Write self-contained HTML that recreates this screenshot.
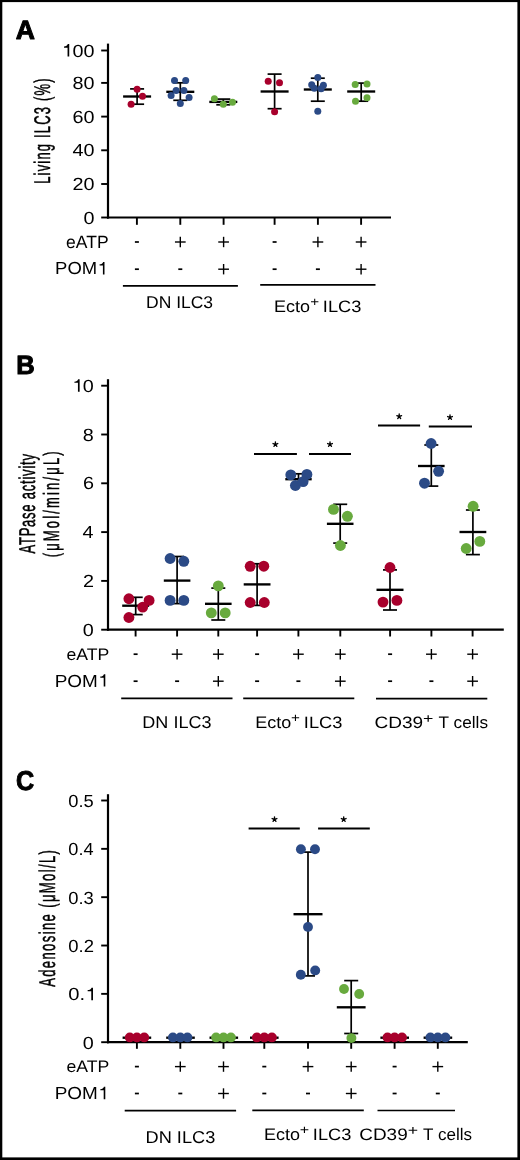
<!DOCTYPE html>
<html><head><meta charset="utf-8"><title>Figure</title>
<style>html,body{margin:0;padding:0;background:#fff;}svg{display:block;will-change:transform;text-rendering:geometricPrecision;}</style></head>
<body><svg width="520" height="1160" viewBox="0 0 520 1160" font-family="'Liberation Sans', sans-serif">
<rect x="0" y="0" width="520" height="1160" fill="#fff"/>
<rect x="0" y="0" width="2.3" height="1160" fill="#000"/>
<rect x="0" y="0" width="520" height="2.1" fill="#000"/>
<rect x="517.4" y="0" width="2.6" height="1160" fill="#000"/>
<rect x="0" y="1157.4" width="520" height="2.6" fill="#000"/>
<g transform="matrix(0.984 0 0 0.982 15.836 38.5)" fill="#000"><text font-size="27" font-weight="bold" stroke="#000" stroke-width="1.0" stroke-linejoin="round">A</text></g>
<line x1="108" y1="43.6" x2="108" y2="218.6" stroke="#000" stroke-width="2.2"/>
<line x1="107" y1="217.5" x2="391" y2="217.5" stroke="#000" stroke-width="2.2"/>
<line x1="101.2" y1="50.5" x2="108" y2="50.5" stroke="#000" stroke-width="1.9"/>
<line x1="101.2" y1="82.9" x2="108" y2="82.9" stroke="#000" stroke-width="1.9"/>
<line x1="101.2" y1="116.6" x2="108" y2="116.6" stroke="#000" stroke-width="1.9"/>
<line x1="101.2" y1="150.3" x2="108" y2="150.3" stroke="#000" stroke-width="1.9"/>
<line x1="101.2" y1="184" x2="108" y2="184" stroke="#000" stroke-width="1.9"/>
<line x1="101.2" y1="217.5" x2="108" y2="217.5" stroke="#000" stroke-width="1.9"/>
<g transform="matrix(1.1 0 0 0.978 61.417 56.574)" fill="#000"><text font-size="18" font-weight="normal"> 00</text><path d="M5.580,0.000 L5.580,-9.126 L2.358,-9.126 L2.358,-10.368 C4.176,-10.494 5.400,-11.070 5.796,-12.762 L7.110,-12.762 L7.110,0.000 Z"/></g>
<g transform="matrix(1.1 0 0 0.978 72.409 88.974)" fill="#000"><text font-size="18" font-weight="normal">80</text></g>
<g transform="matrix(1.1 0 0 0.978 72.409 122.674)" fill="#000"><text font-size="18" font-weight="normal">60</text></g>
<g transform="matrix(1.1 0 0 0.978 72.409 156.374)" fill="#000"><text font-size="18" font-weight="normal">40</text></g>
<g transform="matrix(1.1 0 0 0.978 72.409 190.074)" fill="#000"><text font-size="18" font-weight="normal">20</text></g>
<g transform="matrix(1.1 0 0 0.978 83.4 223.574)" fill="#000"><text font-size="18" font-weight="normal">0</text></g>
<line x1="136.9" y1="217.5" x2="136.9" y2="224.8" stroke="#000" stroke-width="1.9"/>
<line x1="180.3" y1="217.5" x2="180.3" y2="224.8" stroke="#000" stroke-width="1.9"/>
<line x1="223.6" y1="217.5" x2="223.6" y2="224.8" stroke="#000" stroke-width="1.9"/>
<line x1="274.6" y1="217.5" x2="274.6" y2="224.8" stroke="#000" stroke-width="1.9"/>
<line x1="317.9" y1="217.5" x2="317.9" y2="224.8" stroke="#000" stroke-width="1.9"/>
<line x1="361.1" y1="217.5" x2="361.1" y2="224.8" stroke="#000" stroke-width="1.9"/>
<g transform="matrix(0.973 0 0 0.982 66.112 247.7)" fill="#000"><text font-size="18" font-weight="normal">eATP</text></g>
<g transform="matrix(1.026 0 0 0.972 55.122 274.4)" fill="#000"><text font-size="18" font-weight="normal">POM </text><path d="M46.582,0.000 L46.582,-9.126 L43.360,-9.126 L43.360,-10.368 C45.178,-10.494 46.402,-11.070 46.798,-12.762 L48.112,-12.762 L48.112,0.000 Z"/></g>
<rect x="134.9" y="241.15" width="4" height="1.7" fill="#000"/>
<rect x="134.9" y="268.35" width="4" height="1.7" fill="#000"/>
<line x1="174.95" y1="242" x2="185.65" y2="242" stroke="#000" stroke-width="1.4"/>
<line x1="180.3" y1="236.8" x2="180.3" y2="247.2" stroke="#000" stroke-width="1.4"/>
<rect x="178.3" y="268.35" width="4" height="1.7" fill="#000"/>
<line x1="218.25" y1="242" x2="228.95" y2="242" stroke="#000" stroke-width="1.4"/>
<line x1="223.6" y1="236.8" x2="223.6" y2="247.2" stroke="#000" stroke-width="1.4"/>
<line x1="218.25" y1="269.2" x2="228.95" y2="269.2" stroke="#000" stroke-width="1.4"/>
<line x1="223.6" y1="264" x2="223.6" y2="274.4" stroke="#000" stroke-width="1.4"/>
<rect x="272.6" y="241.15" width="4" height="1.7" fill="#000"/>
<rect x="272.6" y="268.35" width="4" height="1.7" fill="#000"/>
<line x1="312.55" y1="242" x2="323.25" y2="242" stroke="#000" stroke-width="1.4"/>
<line x1="317.9" y1="236.8" x2="317.9" y2="247.2" stroke="#000" stroke-width="1.4"/>
<rect x="315.9" y="268.35" width="4" height="1.7" fill="#000"/>
<line x1="355.75" y1="242" x2="366.45" y2="242" stroke="#000" stroke-width="1.4"/>
<line x1="361.1" y1="236.8" x2="361.1" y2="247.2" stroke="#000" stroke-width="1.4"/>
<line x1="355.75" y1="269.2" x2="366.45" y2="269.2" stroke="#000" stroke-width="1.4"/>
<line x1="361.1" y1="264" x2="361.1" y2="274.4" stroke="#000" stroke-width="1.4"/>
<line x1="122.9" y1="285.8" x2="237.9" y2="285.8" stroke="#000" stroke-width="1.7"/>
<line x1="260.2" y1="284.8" x2="375.5" y2="284.8" stroke="#000" stroke-width="1.7"/>
<g transform="matrix(1.029 0 0 1 146.001 308.3)" fill="#000"><text font-size="17" font-weight="normal">DN ILC3</text></g>
<g transform="matrix(1.058 0 0 0.98 274.062 311.8)" fill="#000"><text font-size="17" font-weight="normal">Ecto</text></g>
<g transform="matrix(1.174 0 0 0.981 310.237 306.4)" fill="#000"><text font-size="13" font-weight="normal">+</text></g>
<g transform="matrix(1.139 0 0 1.027 322.859 311.8)" fill="#000"><text font-size="16" font-weight="normal">ILC3</text></g>
<text transform="translate(49.6 183.84) rotate(-90) scale(0.565 0.983)" font-size="23" letter-spacing="2.093" stroke="#000" stroke-width="0.5">Living ILC3 (%)</text>
<line x1="137.1" y1="88.9" x2="137.1" y2="104.2" stroke="#000" stroke-width="1.7"/>
<line x1="130.1" y1="88.9" x2="144.1" y2="88.9" stroke="#000" stroke-width="1.7"/>
<line x1="130.1" y1="104.2" x2="144.1" y2="104.2" stroke="#000" stroke-width="1.7"/>
<line x1="123.1" y1="96.5" x2="151.1" y2="96.5" stroke="#000" stroke-width="2.35"/>
<circle cx="137.1" cy="89.2" r="3.5" fill="#a8002c"/>
<circle cx="142.5" cy="96.3" r="3.5" fill="#a8002c"/>
<circle cx="131.1" cy="104.2" r="3.5" fill="#a8002c"/>
<line x1="180.3" y1="82.8" x2="180.3" y2="100.3" stroke="#000" stroke-width="1.7"/>
<line x1="173.3" y1="82.8" x2="187.3" y2="82.8" stroke="#000" stroke-width="1.7"/>
<line x1="173.3" y1="100.3" x2="187.3" y2="100.3" stroke="#000" stroke-width="1.7"/>
<line x1="166.3" y1="91.8" x2="194.3" y2="91.8" stroke="#000" stroke-width="2.35"/>
<circle cx="174.5" cy="80.6" r="3.5" fill="#2b4a86"/>
<circle cx="185.7" cy="80.6" r="3.5" fill="#2b4a86"/>
<circle cx="176.1" cy="90.5" r="3.5" fill="#2b4a86"/>
<circle cx="183.9" cy="90.5" r="3.5" fill="#2b4a86"/>
<circle cx="171.1" cy="95.5" r="3.5" fill="#2b4a86"/>
<circle cx="189.1" cy="97.4" r="3.5" fill="#2b4a86"/>
<circle cx="180.3" cy="103.5" r="3.5" fill="#2b4a86"/>
<line x1="223.3" y1="99.1" x2="223.3" y2="104.8" stroke="#000" stroke-width="1.7"/>
<line x1="216.3" y1="99.1" x2="230.3" y2="99.1" stroke="#000" stroke-width="1.7"/>
<line x1="216.3" y1="104.8" x2="230.3" y2="104.8" stroke="#000" stroke-width="1.7"/>
<line x1="209.3" y1="101.9" x2="237.3" y2="101.9" stroke="#000" stroke-width="2.35"/>
<circle cx="214.4" cy="98.8" r="3.5" fill="#68aa3e"/>
<circle cx="223.3" cy="104.2" r="3.5" fill="#68aa3e"/>
<circle cx="232.5" cy="102.3" r="3.5" fill="#68aa3e"/>
<line x1="274.6" y1="74.1" x2="274.6" y2="108.7" stroke="#000" stroke-width="1.7"/>
<line x1="267.6" y1="74.1" x2="281.6" y2="74.1" stroke="#000" stroke-width="1.7"/>
<line x1="267.6" y1="108.7" x2="281.6" y2="108.7" stroke="#000" stroke-width="1.7"/>
<line x1="260.6" y1="91.5" x2="288.6" y2="91.5" stroke="#000" stroke-width="2.35"/>
<circle cx="268.2" cy="81.2" r="3.5" fill="#a8002c"/>
<circle cx="279.5" cy="82.8" r="3.5" fill="#a8002c"/>
<circle cx="274.6" cy="111.8" r="3.5" fill="#a8002c"/>
<line x1="317.8" y1="78.2" x2="317.8" y2="101.2" stroke="#000" stroke-width="1.7"/>
<line x1="310.8" y1="78.2" x2="324.8" y2="78.2" stroke="#000" stroke-width="1.7"/>
<line x1="310.8" y1="101.2" x2="324.8" y2="101.2" stroke="#000" stroke-width="1.7"/>
<line x1="303.8" y1="89.5" x2="331.8" y2="89.5" stroke="#000" stroke-width="2.35"/>
<circle cx="317.8" cy="77.5" r="3.5" fill="#2b4a86"/>
<circle cx="311.7" cy="84.8" r="3.5" fill="#2b4a86"/>
<circle cx="314.3" cy="88.3" r="3.5" fill="#2b4a86"/>
<circle cx="323.4" cy="85.2" r="3.5" fill="#2b4a86"/>
<circle cx="321.1" cy="88.7" r="3.5" fill="#2b4a86"/>
<circle cx="317.8" cy="111.2" r="3.5" fill="#2b4a86"/>
<line x1="361.2" y1="83.1" x2="361.2" y2="101.2" stroke="#000" stroke-width="1.7"/>
<line x1="354.2" y1="83.1" x2="368.2" y2="83.1" stroke="#000" stroke-width="1.7"/>
<line x1="354.2" y1="101.2" x2="368.2" y2="101.2" stroke="#000" stroke-width="1.7"/>
<line x1="347.2" y1="91.5" x2="375.2" y2="91.5" stroke="#000" stroke-width="2.35"/>
<circle cx="355.2" cy="84.6" r="3.5" fill="#68aa3e"/>
<circle cx="367" cy="84.1" r="3.5" fill="#68aa3e"/>
<circle cx="367" cy="97.7" r="3.5" fill="#68aa3e"/>
<circle cx="355.5" cy="101.2" r="3.5" fill="#68aa3e"/>
<g transform="matrix(0.984 0 0 1.014 16.338 374)" fill="#000"><text font-size="26" font-weight="bold" stroke="#000" stroke-width="1.0" stroke-linejoin="round">B</text></g>
<line x1="108" y1="379.2" x2="108" y2="630.8" stroke="#000" stroke-width="2.2"/>
<line x1="107" y1="629.7" x2="503.8" y2="629.7" stroke="#000" stroke-width="2.2"/>
<line x1="101.2" y1="385.7" x2="108" y2="385.7" stroke="#000" stroke-width="1.9"/>
<line x1="101.2" y1="434.5" x2="108" y2="434.5" stroke="#000" stroke-width="1.9"/>
<line x1="101.2" y1="483.3" x2="108" y2="483.3" stroke="#000" stroke-width="1.9"/>
<line x1="101.2" y1="532.1" x2="108" y2="532.1" stroke="#000" stroke-width="1.9"/>
<line x1="101.2" y1="580.9" x2="108" y2="580.9" stroke="#000" stroke-width="1.9"/>
<line x1="101.2" y1="629.7" x2="108" y2="629.7" stroke="#000" stroke-width="1.9"/>
<g transform="matrix(1.1 0 0 0.978 71.809 391.774)" fill="#000"><text font-size="18" font-weight="normal"> 0</text><path d="M5.580,0.000 L5.580,-9.126 L2.358,-9.126 L2.358,-10.368 C4.176,-10.494 5.400,-11.070 5.796,-12.762 L7.110,-12.762 L7.110,0.000 Z"/></g>
<g transform="matrix(1.1 0 0 0.978 82.8 440.574)" fill="#000"><text font-size="18" font-weight="normal">8</text></g>
<g transform="matrix(1.1 0 0 0.978 82.9 489.374)" fill="#000"><text font-size="18" font-weight="normal">6</text></g>
<g transform="matrix(1.1 0 0 0.978 82.602 538.174)" fill="#000"><text font-size="18" font-weight="normal">4</text></g>
<g transform="matrix(1.1 0 0 0.978 82.999 586.974)" fill="#000"><text font-size="18" font-weight="normal">2</text></g>
<g transform="matrix(1.1 0 0 0.978 82.8 635.774)" fill="#000"><text font-size="18" font-weight="normal">0</text></g>
<line x1="135.6" y1="629.7" x2="135.6" y2="636.5" stroke="#000" stroke-width="1.9"/>
<line x1="177.1" y1="629.7" x2="177.1" y2="636.5" stroke="#000" stroke-width="1.9"/>
<line x1="218.3" y1="629.7" x2="218.3" y2="636.5" stroke="#000" stroke-width="1.9"/>
<line x1="257.1" y1="629.7" x2="257.1" y2="636.5" stroke="#000" stroke-width="1.9"/>
<line x1="298.4" y1="629.7" x2="298.4" y2="636.5" stroke="#000" stroke-width="1.9"/>
<line x1="340.3" y1="629.7" x2="340.3" y2="636.5" stroke="#000" stroke-width="1.9"/>
<line x1="390.1" y1="629.7" x2="390.1" y2="636.5" stroke="#000" stroke-width="1.9"/>
<line x1="431.4" y1="629.7" x2="431.4" y2="636.5" stroke="#000" stroke-width="1.9"/>
<line x1="472.6" y1="629.7" x2="472.6" y2="636.5" stroke="#000" stroke-width="1.9"/>
<g transform="matrix(1.038 0 0 0.98 66.406 659.6)" fill="#000"><text font-size="17" font-weight="normal">eATP</text></g>
<g transform="matrix(1.114 0 0 1.025 54.685 686.6)" fill="#000"><text font-size="17" font-weight="normal">POM </text><path d="M43.994,0.000 L43.994,-8.619 L40.951,-8.619 L40.951,-9.792 C42.668,-9.911 43.824,-10.455 44.198,-12.053 L45.439,-12.053 L45.439,0.000 Z"/></g>
<rect x="133.6" y="653.35" width="4" height="1.7" fill="#000"/>
<rect x="133.6" y="680.35" width="4" height="1.7" fill="#000"/>
<line x1="171.75" y1="654.2" x2="182.45" y2="654.2" stroke="#000" stroke-width="1.4"/>
<line x1="177.1" y1="649" x2="177.1" y2="659.4" stroke="#000" stroke-width="1.4"/>
<rect x="175.1" y="680.35" width="4" height="1.7" fill="#000"/>
<line x1="212.95" y1="654.2" x2="223.65" y2="654.2" stroke="#000" stroke-width="1.4"/>
<line x1="218.3" y1="649" x2="218.3" y2="659.4" stroke="#000" stroke-width="1.4"/>
<line x1="212.95" y1="681.2" x2="223.65" y2="681.2" stroke="#000" stroke-width="1.4"/>
<line x1="218.3" y1="676" x2="218.3" y2="686.4" stroke="#000" stroke-width="1.4"/>
<rect x="255.1" y="653.35" width="4" height="1.7" fill="#000"/>
<rect x="255.1" y="680.35" width="4" height="1.7" fill="#000"/>
<line x1="293.05" y1="654.2" x2="303.75" y2="654.2" stroke="#000" stroke-width="1.4"/>
<line x1="298.4" y1="649" x2="298.4" y2="659.4" stroke="#000" stroke-width="1.4"/>
<rect x="296.4" y="680.35" width="4" height="1.7" fill="#000"/>
<line x1="334.95" y1="654.2" x2="345.65" y2="654.2" stroke="#000" stroke-width="1.4"/>
<line x1="340.3" y1="649" x2="340.3" y2="659.4" stroke="#000" stroke-width="1.4"/>
<line x1="334.95" y1="681.2" x2="345.65" y2="681.2" stroke="#000" stroke-width="1.4"/>
<line x1="340.3" y1="676" x2="340.3" y2="686.4" stroke="#000" stroke-width="1.4"/>
<rect x="388.1" y="653.35" width="4" height="1.7" fill="#000"/>
<rect x="388.1" y="680.35" width="4" height="1.7" fill="#000"/>
<line x1="426.05" y1="654.2" x2="436.75" y2="654.2" stroke="#000" stroke-width="1.4"/>
<line x1="431.4" y1="649" x2="431.4" y2="659.4" stroke="#000" stroke-width="1.4"/>
<rect x="429.4" y="680.35" width="4" height="1.7" fill="#000"/>
<line x1="467.25" y1="654.2" x2="477.95" y2="654.2" stroke="#000" stroke-width="1.4"/>
<line x1="472.6" y1="649" x2="472.6" y2="659.4" stroke="#000" stroke-width="1.4"/>
<line x1="467.25" y1="681.2" x2="477.95" y2="681.2" stroke="#000" stroke-width="1.4"/>
<line x1="472.6" y1="676" x2="472.6" y2="686.4" stroke="#000" stroke-width="1.4"/>
<line x1="121.2" y1="698.3" x2="232.5" y2="698.3" stroke="#000" stroke-width="1.7"/>
<line x1="243.2" y1="698.3" x2="354.3" y2="698.3" stroke="#000" stroke-width="1.7"/>
<line x1="376" y1="698.6" x2="487.3" y2="698.6" stroke="#000" stroke-width="1.7"/>
<g transform="matrix(1.062 0 0 1.008 142.305 728)" fill="#000"><text font-size="17" font-weight="normal">DN ILC3</text></g>
<g transform="matrix(1.058 0 0 0.98 255.162 727.8)" fill="#000"><text font-size="17" font-weight="normal">Ecto</text></g>
<g transform="matrix(1.174 0 0 0.981 290.937 722.4)" fill="#000"><text font-size="13" font-weight="normal">+</text></g>
<g transform="matrix(1.139 0 0 1.027 303.859 727.8)" fill="#000"><text font-size="16" font-weight="normal">ILC3</text></g>
<g transform="matrix(1.189 0 0 1.027 374.549 727.9)" fill="#000"><text font-size="16" font-weight="normal">CD39</text></g>
<g transform="matrix(1.364 0 0 1.034 423.013 722.6)" fill="#000"><text font-size="13" font-weight="normal">+</text></g>
<g transform="matrix(1.013 0 0 0.98 438.555 727.9)" fill="#000"><text font-size="17" font-weight="normal">T cells</text></g>
<text transform="translate(35 553.565) rotate(-90) scale(0.565 0.989)" font-size="23" letter-spacing="1.382" stroke="#000" stroke-width="0.5">ATPase activity</text>
<text transform="translate(59.2 557.28) rotate(-90) scale(0.591 1.014)" font-size="22" letter-spacing="3.654" stroke="#000" stroke-width="0.5">(μMol/min/μL)</text>
<line x1="254" y1="453.9" x2="296.9" y2="453.9" stroke="#000" stroke-width="2"/>
<path d="M275.4,444.3 L275.4,441.8 M275.4,444.3 L277.778,443.527 M275.4,444.3 L276.869,446.323 M275.4,444.3 L273.931,446.323 M275.4,444.3 L273.022,443.527 " stroke="#000" stroke-width="1.35" stroke-linecap="round" fill="none"/>
<circle cx="275.4" cy="444.3" r="1.0" fill="#000"/>
<line x1="309" y1="453.9" x2="351" y2="453.9" stroke="#000" stroke-width="2"/>
<path d="M330,444.3 L330,441.8 M330,444.3 L332.378,443.527 M330,444.3 L331.469,446.323 M330,444.3 L328.531,446.323 M330,444.3 L327.622,443.527 " stroke="#000" stroke-width="1.35" stroke-linecap="round" fill="none"/>
<circle cx="330" cy="444.3" r="1.0" fill="#000"/>
<line x1="378" y1="425.4" x2="420.1" y2="425.4" stroke="#000" stroke-width="2"/>
<path d="M399.2,416.5 L399.2,414 M399.2,416.5 L401.578,415.727 M399.2,416.5 L400.669,418.523 M399.2,416.5 L397.731,418.523 M399.2,416.5 L396.822,415.727 " stroke="#000" stroke-width="1.35" stroke-linecap="round" fill="none"/>
<circle cx="399.2" cy="416.5" r="1.0" fill="#000"/>
<line x1="428.8" y1="426.4" x2="472" y2="426.4" stroke="#000" stroke-width="2"/>
<path d="M450,417.3 L450,414.8 M450,417.3 L452.378,416.527 M450,417.3 L451.469,419.323 M450,417.3 L448.531,419.323 M450,417.3 L447.622,416.527 " stroke="#000" stroke-width="1.35" stroke-linecap="round" fill="none"/>
<circle cx="450" cy="417.3" r="1.0" fill="#000"/>
<line x1="135.7" y1="597.3" x2="135.7" y2="614.6" stroke="#000" stroke-width="1.7"/>
<line x1="128.7" y1="597.3" x2="142.7" y2="597.3" stroke="#000" stroke-width="1.7"/>
<line x1="128.7" y1="614.6" x2="142.7" y2="614.6" stroke="#000" stroke-width="1.7"/>
<line x1="122.2" y1="605.7" x2="149.2" y2="605.7" stroke="#000" stroke-width="2.35"/>
<circle cx="128.9" cy="598.75" r="5.45" fill="#a8002c"/>
<circle cx="149.1" cy="600.4" r="5.45" fill="#a8002c"/>
<circle cx="142.7" cy="607.1" r="5.45" fill="#a8002c"/>
<circle cx="128.9" cy="617.5" r="5.45" fill="#a8002c"/>
<line x1="177.1" y1="556.5" x2="177.1" y2="603.6" stroke="#000" stroke-width="1.7"/>
<line x1="170.1" y1="556.5" x2="184.1" y2="556.5" stroke="#000" stroke-width="1.7"/>
<line x1="170.1" y1="603.6" x2="184.1" y2="603.6" stroke="#000" stroke-width="1.7"/>
<line x1="163.8" y1="580.6" x2="190.4" y2="580.6" stroke="#000" stroke-width="2.35"/>
<circle cx="170.1" cy="558.5" r="5.45" fill="#2b4a86"/>
<circle cx="183.8" cy="561.3" r="5.45" fill="#2b4a86"/>
<circle cx="170.1" cy="600.4" r="5.45" fill="#2b4a86"/>
<circle cx="183.8" cy="600.4" r="5.45" fill="#2b4a86"/>
<line x1="218.3" y1="588.1" x2="218.3" y2="620" stroke="#000" stroke-width="1.7"/>
<line x1="211.3" y1="588.1" x2="225.3" y2="588.1" stroke="#000" stroke-width="1.7"/>
<line x1="211.3" y1="620" x2="225.3" y2="620" stroke="#000" stroke-width="1.7"/>
<line x1="205" y1="603.8" x2="231.6" y2="603.8" stroke="#000" stroke-width="2.35"/>
<circle cx="218.3" cy="585.9" r="5.45" fill="#68aa3e"/>
<circle cx="211.3" cy="612.9" r="5.45" fill="#68aa3e"/>
<circle cx="225.2" cy="612.9" r="5.45" fill="#68aa3e"/>
<line x1="257.1" y1="563.75" x2="257.1" y2="605.4" stroke="#000" stroke-width="1.7"/>
<line x1="250.1" y1="563.75" x2="264.1" y2="563.75" stroke="#000" stroke-width="1.7"/>
<line x1="250.1" y1="605.4" x2="264.1" y2="605.4" stroke="#000" stroke-width="1.7"/>
<line x1="243.7" y1="584.4" x2="270.5" y2="584.4" stroke="#000" stroke-width="2.35"/>
<circle cx="250.2" cy="566.3" r="5.45" fill="#a8002c"/>
<circle cx="263.8" cy="566.2" r="5.45" fill="#a8002c"/>
<circle cx="250.2" cy="602.5" r="5.45" fill="#a8002c"/>
<circle cx="264.3" cy="602.5" r="5.45" fill="#a8002c"/>
<line x1="298.5" y1="473.8" x2="298.5" y2="484.5" stroke="#000" stroke-width="1.7"/>
<line x1="291.5" y1="473.8" x2="305.5" y2="473.8" stroke="#000" stroke-width="1.7"/>
<line x1="291.5" y1="484.5" x2="305.5" y2="484.5" stroke="#000" stroke-width="1.7"/>
<line x1="285.3" y1="479.2" x2="311.7" y2="479.2" stroke="#000" stroke-width="2.35"/>
<circle cx="290.8" cy="474.9" r="5.45" fill="#2b4a86"/>
<circle cx="306.9" cy="474.4" r="5.45" fill="#2b4a86"/>
<circle cx="295.4" cy="485.5" r="5.45" fill="#2b4a86"/>
<circle cx="303.1" cy="481.6" r="5.45" fill="#2b4a86"/>
<line x1="340.2" y1="504.3" x2="340.2" y2="543.1" stroke="#000" stroke-width="1.7"/>
<line x1="333.2" y1="504.3" x2="347.2" y2="504.3" stroke="#000" stroke-width="1.7"/>
<line x1="333.2" y1="543.1" x2="347.2" y2="543.1" stroke="#000" stroke-width="1.7"/>
<line x1="326.9" y1="523.8" x2="353.5" y2="523.8" stroke="#000" stroke-width="2.35"/>
<circle cx="333.5" cy="509.4" r="5.45" fill="#68aa3e"/>
<circle cx="347.4" cy="516.3" r="5.45" fill="#68aa3e"/>
<circle cx="340.4" cy="545.5" r="5.45" fill="#68aa3e"/>
<line x1="390" y1="569.9" x2="390" y2="610" stroke="#000" stroke-width="1.7"/>
<line x1="383" y1="569.9" x2="397" y2="569.9" stroke="#000" stroke-width="1.7"/>
<line x1="383" y1="610" x2="397" y2="610" stroke="#000" stroke-width="1.7"/>
<line x1="376.5" y1="589.8" x2="403.5" y2="589.8" stroke="#000" stroke-width="2.35"/>
<circle cx="390" cy="567.5" r="5.45" fill="#a8002c"/>
<circle cx="383" cy="602.1" r="5.45" fill="#a8002c"/>
<circle cx="396.9" cy="600.4" r="5.45" fill="#a8002c"/>
<line x1="431.3" y1="445" x2="431.3" y2="486.1" stroke="#000" stroke-width="1.7"/>
<line x1="424.3" y1="445" x2="438.3" y2="445" stroke="#000" stroke-width="1.7"/>
<line x1="424.3" y1="486.1" x2="438.3" y2="486.1" stroke="#000" stroke-width="1.7"/>
<line x1="418" y1="466" x2="444.6" y2="466" stroke="#000" stroke-width="2.35"/>
<circle cx="431.1" cy="443.5" r="5.45" fill="#2b4a86"/>
<circle cx="438.6" cy="471.3" r="5.45" fill="#2b4a86"/>
<circle cx="424.5" cy="483.2" r="5.45" fill="#2b4a86"/>
<line x1="472.9" y1="510" x2="472.9" y2="554.6" stroke="#000" stroke-width="1.7"/>
<line x1="465.9" y1="510" x2="479.9" y2="510" stroke="#000" stroke-width="1.7"/>
<line x1="465.9" y1="554.6" x2="479.9" y2="554.6" stroke="#000" stroke-width="1.7"/>
<line x1="459.5" y1="532" x2="486.3" y2="532" stroke="#000" stroke-width="2.35"/>
<circle cx="473.1" cy="506.3" r="5.45" fill="#68aa3e"/>
<circle cx="479.8" cy="541.4" r="5.45" fill="#68aa3e"/>
<circle cx="466.2" cy="548.5" r="5.45" fill="#68aa3e"/>
<g transform="matrix(0.933 0 0 1.011 16.092 790.3)" fill="#000"><text font-size="27" font-weight="bold" stroke="#000" stroke-width="1.0" stroke-linejoin="round">C</text></g>
<line x1="108" y1="794.2" x2="108" y2="1043.3" stroke="#000" stroke-width="2.2"/>
<line x1="107" y1="1042.2" x2="467.8" y2="1042.2" stroke="#000" stroke-width="2.2"/>
<line x1="101.2" y1="800.5" x2="108" y2="800.5" stroke="#000" stroke-width="1.9"/>
<line x1="101.2" y1="848.84" x2="108" y2="848.84" stroke="#000" stroke-width="1.9"/>
<line x1="101.2" y1="897.18" x2="108" y2="897.18" stroke="#000" stroke-width="1.9"/>
<line x1="101.2" y1="945.52" x2="108" y2="945.52" stroke="#000" stroke-width="1.9"/>
<line x1="101.2" y1="993.86" x2="108" y2="993.86" stroke="#000" stroke-width="1.9"/>
<line x1="101.2" y1="1042.2" x2="108" y2="1042.2" stroke="#000" stroke-width="1.9"/>
<g transform="matrix(1.018 0 0 0.978 68.267 806.874)" fill="#000"><text font-size="18" font-weight="normal">0.5</text></g>
<g transform="matrix(1.01 0 0 0.978 68.273 855.214)" fill="#000"><text font-size="18" font-weight="normal">0.4</text></g>
<g transform="matrix(1.022 0 0 0.978 68.264 903.554)" fill="#000"><text font-size="18" font-weight="normal">0.3</text></g>
<g transform="matrix(1.026 0 0 0.978 68.262 951.894)" fill="#000"><text font-size="18" font-weight="normal">0.2</text></g>
<g transform="matrix(1.121 0 0 0.978 68.193 1000.234)" fill="#000"><text font-size="18" font-weight="normal">0. </text><path d="M20.592,0.000 L20.592,-9.126 L17.370,-9.126 L17.370,-10.368 C19.188,-10.494 20.412,-11.070 20.808,-12.762 L22.122,-12.762 L22.122,0.000 Z"/></g>
<g transform="matrix(1.1 0 0 0.978 82.8 1048.574)" fill="#000"><text font-size="18" font-weight="normal">0</text></g>
<line x1="136.9" y1="1042.2" x2="136.9" y2="1048.8" stroke="#000" stroke-width="1.9"/>
<line x1="180.3" y1="1042.2" x2="180.3" y2="1048.8" stroke="#000" stroke-width="1.9"/>
<line x1="223.5" y1="1042.2" x2="223.5" y2="1048.8" stroke="#000" stroke-width="1.9"/>
<line x1="264.3" y1="1042.2" x2="264.3" y2="1048.8" stroke="#000" stroke-width="1.9"/>
<line x1="308" y1="1042.2" x2="308" y2="1048.8" stroke="#000" stroke-width="1.9"/>
<line x1="351.2" y1="1042.2" x2="351.2" y2="1048.8" stroke="#000" stroke-width="1.9"/>
<line x1="394.6" y1="1042.2" x2="394.6" y2="1048.8" stroke="#000" stroke-width="1.9"/>
<line x1="437.8" y1="1042.2" x2="437.8" y2="1048.8" stroke="#000" stroke-width="1.9"/>
<g transform="matrix(1.038 0 0 0.98 66.406 1071.9)" fill="#000"><text font-size="17" font-weight="normal">eATP</text></g>
<g transform="matrix(1.114 0 0 1.025 54.685 1099.2)" fill="#000"><text font-size="17" font-weight="normal">POM </text><path d="M43.994,0.000 L43.994,-8.619 L40.951,-8.619 L40.951,-9.792 C42.668,-9.911 43.824,-10.455 44.198,-12.053 L45.439,-12.053 L45.439,0.000 Z"/></g>
<rect x="134.9" y="1065.75" width="4" height="1.7" fill="#000"/>
<rect x="134.9" y="1092.65" width="4" height="1.7" fill="#000"/>
<line x1="174.95" y1="1066.6" x2="185.65" y2="1066.6" stroke="#000" stroke-width="1.4"/>
<line x1="180.3" y1="1061.4" x2="180.3" y2="1071.8" stroke="#000" stroke-width="1.4"/>
<rect x="178.3" y="1092.65" width="4" height="1.7" fill="#000"/>
<line x1="218.15" y1="1066.6" x2="228.85" y2="1066.6" stroke="#000" stroke-width="1.4"/>
<line x1="223.5" y1="1061.4" x2="223.5" y2="1071.8" stroke="#000" stroke-width="1.4"/>
<line x1="218.15" y1="1093.5" x2="228.85" y2="1093.5" stroke="#000" stroke-width="1.4"/>
<line x1="223.5" y1="1088.3" x2="223.5" y2="1098.7" stroke="#000" stroke-width="1.4"/>
<rect x="262.3" y="1065.75" width="4" height="1.7" fill="#000"/>
<rect x="262.3" y="1092.65" width="4" height="1.7" fill="#000"/>
<line x1="302.65" y1="1066.6" x2="313.35" y2="1066.6" stroke="#000" stroke-width="1.4"/>
<line x1="308" y1="1061.4" x2="308" y2="1071.8" stroke="#000" stroke-width="1.4"/>
<rect x="306" y="1092.65" width="4" height="1.7" fill="#000"/>
<line x1="345.85" y1="1066.6" x2="356.55" y2="1066.6" stroke="#000" stroke-width="1.4"/>
<line x1="351.2" y1="1061.4" x2="351.2" y2="1071.8" stroke="#000" stroke-width="1.4"/>
<line x1="345.85" y1="1093.5" x2="356.55" y2="1093.5" stroke="#000" stroke-width="1.4"/>
<line x1="351.2" y1="1088.3" x2="351.2" y2="1098.7" stroke="#000" stroke-width="1.4"/>
<rect x="392.6" y="1065.75" width="4" height="1.7" fill="#000"/>
<rect x="392.6" y="1092.65" width="4" height="1.7" fill="#000"/>
<line x1="432.45" y1="1066.6" x2="443.15" y2="1066.6" stroke="#000" stroke-width="1.4"/>
<line x1="437.8" y1="1061.4" x2="437.8" y2="1071.8" stroke="#000" stroke-width="1.4"/>
<rect x="435.8" y="1092.65" width="4" height="1.7" fill="#000"/>
<line x1="124.7" y1="1110.7" x2="236.1" y2="1110.7" stroke="#000" stroke-width="1.7"/>
<line x1="252.3" y1="1110.4" x2="363.8" y2="1110.4" stroke="#000" stroke-width="1.7"/>
<line x1="377.5" y1="1110.5" x2="455" y2="1110.5" stroke="#000" stroke-width="1.7"/>
<g transform="matrix(1.07 0 0 1.008 145.544 1142.8)" fill="#000"><text font-size="17" font-weight="normal">DN ILC3</text></g>
<g transform="matrix(1.058 0 0 0.98 264.062 1139.8)" fill="#000"><text font-size="17" font-weight="normal">Ecto</text></g>
<g transform="matrix(1.237 0 0 0.981 299.796 1134.4)" fill="#000"><text font-size="13" font-weight="normal">+</text></g>
<g transform="matrix(1.139 0 0 1.027 312.859 1139.8)" fill="#000"><text font-size="16" font-weight="normal">ILC3</text></g>
<g transform="matrix(1.114 0 0 0.975 359.253 1140.2)" fill="#000"><text font-size="17" font-weight="normal">CD39</text></g>
<g transform="matrix(1.267 0 0 0.998 407.713 1135.3)" fill="#000"><text font-size="14" font-weight="normal">+</text></g>
<g transform="matrix(1.003 0 0 0.989 423.059 1140.2)" fill="#000"><text font-size="17" font-weight="normal">T cells</text></g>
<text transform="translate(54.9 986.865) rotate(-90) scale(0.565 0.983)" font-size="23" letter-spacing="2.485" stroke="#000" stroke-width="0.5">Adenosine (μMol/L)</text>
<line x1="248.6" y1="828.5" x2="299.8" y2="828.5" stroke="#000" stroke-width="2"/>
<path d="M274.5,819.3 L274.5,816.8 M274.5,819.3 L276.878,818.527 M274.5,819.3 L275.969,821.323 M274.5,819.3 L273.031,821.323 M274.5,819.3 L272.122,818.527 " stroke="#000" stroke-width="1.35" stroke-linecap="round" fill="none"/>
<circle cx="274.5" cy="819.3" r="1.0" fill="#000"/>
<line x1="318.1" y1="828.5" x2="369.8" y2="828.5" stroke="#000" stroke-width="2"/>
<path d="M343.7,819.3 L343.7,816.8 M343.7,819.3 L346.078,818.527 M343.7,819.3 L345.169,821.323 M343.7,819.3 L342.231,821.323 M343.7,819.3 L341.322,818.527 " stroke="#000" stroke-width="1.35" stroke-linecap="round" fill="none"/>
<circle cx="343.7" cy="819.3" r="1.0" fill="#000"/>
<line x1="136.9" y1="1037.7" x2="136.9" y2="1037.7" stroke="#000" stroke-width="1.7"/>
<line x1="136.8" y1="1037.7" x2="137" y2="1037.7" stroke="#000" stroke-width="1.7"/>
<line x1="136.8" y1="1037.7" x2="137" y2="1037.7" stroke="#000" stroke-width="1.7"/>
<line x1="122.6" y1="1037.7" x2="151.2" y2="1037.7" stroke="#000" stroke-width="2.35"/>
<circle cx="129.8" cy="1037.4" r="4.95" fill="#a8002c"/>
<circle cx="136.9" cy="1037.4" r="4.95" fill="#a8002c"/>
<circle cx="144.2" cy="1037.4" r="4.95" fill="#a8002c"/>
<line x1="180.5" y1="1037.7" x2="180.5" y2="1037.7" stroke="#000" stroke-width="1.7"/>
<line x1="180.4" y1="1037.7" x2="180.6" y2="1037.7" stroke="#000" stroke-width="1.7"/>
<line x1="180.4" y1="1037.7" x2="180.6" y2="1037.7" stroke="#000" stroke-width="1.7"/>
<line x1="166.2" y1="1037.7" x2="194.8" y2="1037.7" stroke="#000" stroke-width="2.35"/>
<circle cx="172.9" cy="1037.4" r="4.95" fill="#2b4a86"/>
<circle cx="180.3" cy="1037.4" r="4.95" fill="#2b4a86"/>
<circle cx="187.4" cy="1037.4" r="4.95" fill="#2b4a86"/>
<line x1="223.8" y1="1037.7" x2="223.8" y2="1037.7" stroke="#000" stroke-width="1.7"/>
<line x1="223.7" y1="1037.7" x2="223.9" y2="1037.7" stroke="#000" stroke-width="1.7"/>
<line x1="223.7" y1="1037.7" x2="223.9" y2="1037.7" stroke="#000" stroke-width="1.7"/>
<line x1="209.5" y1="1037.7" x2="238.1" y2="1037.7" stroke="#000" stroke-width="2.35"/>
<circle cx="216.1" cy="1037.4" r="4.95" fill="#68aa3e"/>
<circle cx="223.5" cy="1037.4" r="4.95" fill="#68aa3e"/>
<circle cx="230.9" cy="1037.4" r="4.95" fill="#68aa3e"/>
<line x1="264.3" y1="1037.7" x2="264.3" y2="1037.7" stroke="#000" stroke-width="1.7"/>
<line x1="264.2" y1="1037.7" x2="264.4" y2="1037.7" stroke="#000" stroke-width="1.7"/>
<line x1="264.2" y1="1037.7" x2="264.4" y2="1037.7" stroke="#000" stroke-width="1.7"/>
<line x1="250" y1="1037.7" x2="278.6" y2="1037.7" stroke="#000" stroke-width="2.35"/>
<circle cx="256.9" cy="1037.4" r="4.95" fill="#a8002c"/>
<circle cx="264.3" cy="1037.4" r="4.95" fill="#a8002c"/>
<circle cx="271.9" cy="1037.4" r="4.95" fill="#a8002c"/>
<line x1="394.7" y1="1037.7" x2="394.7" y2="1037.7" stroke="#000" stroke-width="1.7"/>
<line x1="394.6" y1="1037.7" x2="394.8" y2="1037.7" stroke="#000" stroke-width="1.7"/>
<line x1="394.6" y1="1037.7" x2="394.8" y2="1037.7" stroke="#000" stroke-width="1.7"/>
<line x1="380.4" y1="1037.7" x2="409" y2="1037.7" stroke="#000" stroke-width="2.35"/>
<circle cx="387.5" cy="1037.4" r="4.95" fill="#a8002c"/>
<circle cx="394.6" cy="1037.4" r="4.95" fill="#a8002c"/>
<circle cx="402" cy="1037.4" r="4.95" fill="#a8002c"/>
<line x1="437.9" y1="1037.7" x2="437.9" y2="1037.7" stroke="#000" stroke-width="1.7"/>
<line x1="437.8" y1="1037.7" x2="438" y2="1037.7" stroke="#000" stroke-width="1.7"/>
<line x1="437.8" y1="1037.7" x2="438" y2="1037.7" stroke="#000" stroke-width="1.7"/>
<line x1="423.6" y1="1037.7" x2="452.2" y2="1037.7" stroke="#000" stroke-width="2.35"/>
<circle cx="430.4" cy="1037.4" r="4.95" fill="#2b4a86"/>
<circle cx="437.8" cy="1037.4" r="4.95" fill="#2b4a86"/>
<circle cx="445.4" cy="1037.4" r="4.95" fill="#2b4a86"/>
<line x1="308" y1="852.1" x2="308" y2="975.9" stroke="#000" stroke-width="1.7"/>
<line x1="301" y1="852.1" x2="315" y2="852.1" stroke="#000" stroke-width="1.7"/>
<line x1="301" y1="975.9" x2="315" y2="975.9" stroke="#000" stroke-width="1.7"/>
<line x1="293.5" y1="914.2" x2="322.5" y2="914.2" stroke="#000" stroke-width="2.35"/>
<circle cx="300.9" cy="849.2" r="4.95" fill="#2b4a86"/>
<circle cx="315" cy="849.2" r="4.95" fill="#2b4a86"/>
<circle cx="308" cy="926.9" r="4.95" fill="#2b4a86"/>
<circle cx="300.8" cy="974.8" r="4.95" fill="#2b4a86"/>
<circle cx="315.2" cy="970.4" r="4.95" fill="#2b4a86"/>
<line x1="351.2" y1="980.6" x2="351.2" y2="1033.5" stroke="#000" stroke-width="1.7"/>
<line x1="344.2" y1="980.6" x2="358.2" y2="980.6" stroke="#000" stroke-width="1.7"/>
<line x1="344.2" y1="1033.5" x2="358.2" y2="1033.5" stroke="#000" stroke-width="1.7"/>
<line x1="336.8" y1="1007.3" x2="365.6" y2="1007.3" stroke="#000" stroke-width="2.35"/>
<circle cx="344" cy="989" r="4.95" fill="#68aa3e"/>
<circle cx="359.2" cy="994" r="4.95" fill="#68aa3e"/>
<circle cx="351.4" cy="1038.1" r="4.95" fill="#68aa3e"/>
</svg></body></html>
